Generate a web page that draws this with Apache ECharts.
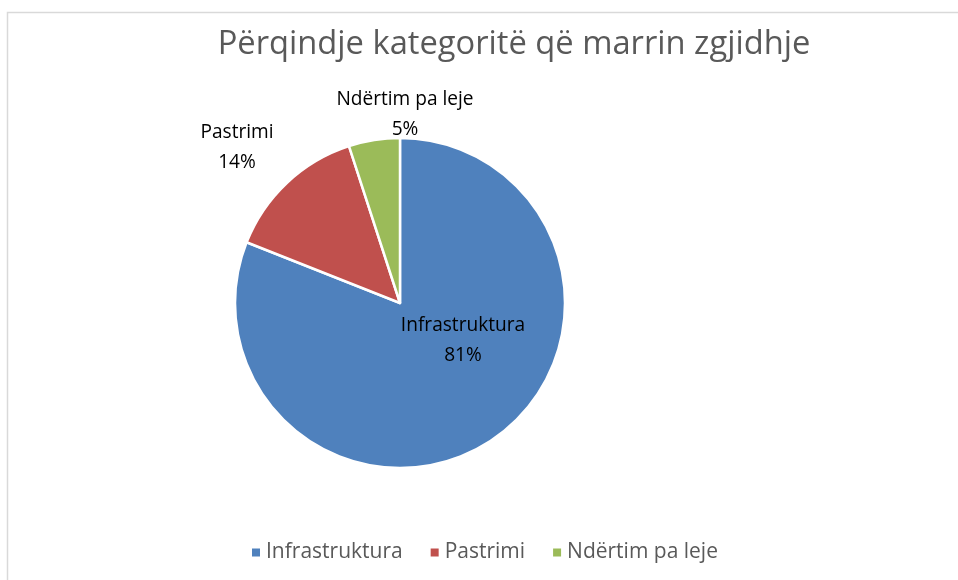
<!DOCTYPE html>
<html><head><meta charset="utf-8">
<script src="https://cdn.jsdelivr.net/npm/echarts@6/dist/echarts.min.js"></script>
<style>html,body{margin:0;padding:0;background:#fff}#c{width:958px;height:580px}</style>
</head><body><div id="c"></div>
<script>
var categories = ['Infrastruktura', 'Pastrimi', 'Ndërtim pa leje'];
var values = [81, 14, 5];
var colors = ['#4F81BD', '#C0504D', '#9BBB59'];
var titleText = 'Përqindje kategoritë që marrin zgjidhje';

var labelPos = [[463, 341], [237, 148], [405, 115]];
var font = '"Open Sans", sans-serif';
var chart = echarts.init(document.getElementById('c'));
chart.setOption({
  animation: false,
  graphic: [{type: 'rect', shape: {x: 7.5, y: 12.5, width: 1000, height: 1000}, style: {fill: 'none', stroke: '#d9d9d9', lineWidth: 1.5}, silent: true}],
  title: {text: titleText, left: 509, top: 23, textAlign: 'center',
    textStyle: {fontFamily: font, fontSize: 32.7, fontWeight: 'normal', color: '#595959'}},
  legend: {data: categories, left: 245, top: 537, itemWidth: 10, itemHeight: 10, itemGap: 26, icon: 'rect',
    textStyle: {fontFamily: font, fontSize: 21, color: '#595959'}},
  series: [{
    type: 'pie', center: [400, 303], radius: [0, 165], startAngle: 90, clockwise: true,
    data: categories.map(function(c, i){ return {name: c, value: values[i], itemStyle: {color: colors[i]}}; }),
    itemStyle: {borderColor: '#fff', borderWidth: 2.5},
    label: {show: true, position: 'outside', formatter: '{b}\n{d}%', fontFamily: font, fontSize: 19.1, color: '#000', lineHeight: 30, align: 'center'},
    labelLine: {show: false},
    labelLayout: function(p){ var i = p.dataIndex; return {x: labelPos[i][0], y: labelPos[i][1], align: 'center', verticalAlign: 'middle'}; }
  }]
});
</script></body></html>
